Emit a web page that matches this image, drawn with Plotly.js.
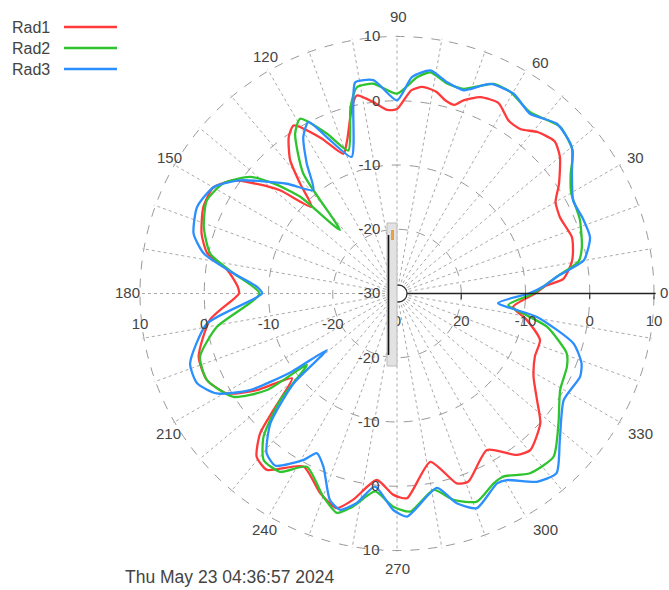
<!DOCTYPE html>
<html><head><meta charset="utf-8">
<script src="https://cdn.plot.ly/plotly-3.0.1.min.js"></script>
<style>html,body{margin:0;padding:0;background:#fff}#chart{width:669px;height:590px}</style>
</head><body><div id="chart"></div>
<script>
const seriesNames = ['Rad1', 'Rad2', 'Rad3'];
const seriesColors = ['#ff3a3a', '#2ec42e', '#2b8fff'];

const rad1Theta = [0,3,5,10,13,18,25,30,34,40,44,49,53,57,62,67,71,73,76,79,83,86,90,93,97,101.5,103.6,108,111,116,121.6,124.7,128.7,131.4,134.6,138.6,142,145.3,150,156,163,168,172,177.6,180,188,197.7,204.5,210.4,214.6,218.9,223.3,225.6,229.3,233.6,241.6,249,254.3,258,263.8,269,272.8,281.2,287.5,290.8,299.9,306.6,310.4,317.8,322.7,328.6,335.4,342,348.7,353.4,360];
const rad1R = [-8.5,-6.8,-4.0,-2.4,-1.9,-1.4,-2.0,-1.5,0.4,3.1,4.1,3.3,2.0,2.0,3.6,3.2,1.8,0.7,1.0,2.0,2.4,1.7,-1.3,-1.4,0.0,1.45,-0.15,-4.9,-6.7,-3.1,0.7,-0.4,-3.4,-7.2,-11.1,-5.7,-2.3,0.9,3.0,3.0,1.8,0.2,-3.3,-5.2,-5.4,-0.6,2.4,2.5,0.7,-3.5,-9.0,-3.6,0.45,3.5,4.1,0.6,3.3,4.7,2.8,-0.8,1.35,1.9,-3.3,1.0,1.3,-1.9,1.3,2.0,0.1,-2.6,-5.1,-6.4,-6.6,-9.5,-11.8,-8.5];

const rad2Theta = [0,3,6,10,14,22,30,34.5,39,45.6,53.7,60.7,65.3,72,76.6,81.4,84.7,90,96.4,101,104,108.8,113.7,119,122.5,128,132,135,138.3,141.6,147.6,154,161,168,173,180,190.5,197.8,204.5,212.3,216.6,218.4,222.4,227,231.3,236.7,242.5,250,254.7,258.4,263.7,269,273.5,280.6,285.3,291,297,300.2,306.5,313.8,321.2,329.4,336.7,340.6,347.5,351,354.1,360];
const rad2R = [-8.8,-7,-5,-1.3,-0.35,0.7,1.3,2.8,5.2,6.3,5.0,6.0,5.9,3.5,3.6,4.8,3.8,1.1,2.85,2.7,-0.1,-6.5,-2.8,1.1,-0.5,-6.3,-16.7,-8.7,-4.25,-0.8,2.0,2.95,1.8,-0.3,-4.4,-8.6,-1.5,2.2,2.5,0.1,-4.8,-12.1,-5.4,0.45,3.2,3.2,0.4,3.6,5.4,3.8,1.0,3.2,4.0,1.1,3.3,4.7,3.15,2.95,4.8,5.2,2.25,-0.5,-1.2,-2.0,-6.1,-10.1,-12.6,-8.8];

const rad3Theta = [0,3,6,10,13.7,16.3,22,27.8,34.4,40,46.7,53.5,59.7,66,71.8,76.7,81.5,86,90,96.3,101.2,103.2,108.4,114.2,117.3,120.9,124.8,129,135.1,144.2,149.9,156.6,163.6,168.3,173,177.3,180,189,198.7,204.2,209,213.3,216.6,218.9,221,225.7,230.8,234.8,240.7,243.3,247,252,255.3,259.1,263.5,269,272.6,281.6,285.9,290.4,297.8,300.5,306.6,311.6,318,327.4,335.6,339.3,344.2,350.5,354.6,360];
const rad3R = [-9.5,-7,-5,-0.5,0.7,1.3,1.2,1.0,3.0,5.5,6.3,4.8,6.0,5.7,3.3,3.8,5.1,3.8,0.05,3.4,3.5,-0.2,-7.6,-3.3,0.05,-1.6,-5.4,-9.3,-5.8,0.1,3.0,3.9,3.0,0.7,-4.4,-8.2,-9.0,-0.05,4.0,4.1,2.1,-2.6,-9.6,-16.0,-8.7,-1.8,2.1,2.8,-0.3,-2.2,-0.7,3.8,4.8,3.2,0.25,3.7,4.75,0.9,3.95,5.65,3.4,3.7,6.5,7.4,4.1,0.8,1.3,0.7,-1.45,-7.9,-14.2,-9.5];

const angleGridVals = [0,10,20,30,40,50,60,70,80,90,100,110,120,130,140,150,160,170,180,190,200,210,220,230,240,250,260,270,280,290,300,310,320,330,340,350];
const angleLabelText = ['0','30','60','90','120','150','180','210','240','270','300','330'];
const radialTickVals = [-30,-20,-10,0,10];
const rightTickText = ['0','20','-10','0','10'];
const leftTickText = ['','-20','-10','0','10'];
const topTickText = ['-30','-20','-10','0','10'];
const bottomTickText = ['','-20','-10','0','10'];
const timestamp = 'Thu May 23 04:36:57 2024';

// layout geometry (pixels)
const W = 669, H = 590;
const RANGE = [-30, 10.25];
const CX = 397, CY = 293.5, RAD = 257 * (RANGE[1] - RANGE[0]) / 40;
const angleLabelPos = [[664,292],[635,157],[540,62],[399,16],[265,56],[169,157],[127,292],[168,434],[264,529],[397,568],[545,529],[640,434]];
const dom = {x: [(CX - RAD) / W, (CX + RAD) / W], y: [1 - (CY + RAD) / H, 1 - (CY - RAD) / H]};
const FONT = 'Liberation Sans, Arial, sans-serif';
const tickFont = {family: FONT, size: 15, color: '#444'};

const thetas = [rad1Theta, rad2Theta, rad3Theta];
const rs = [rad1R, rad2R, rad3R];
const traces = seriesNames.map((n, i) => ({
  type: 'scatterpolar', mode: 'lines', name: n,
  theta: thetas[i], r: rs[i], subplot: 'polar',
  line: {color: seriesColors[i], width: 2.3, shape: 'spline', smoothing: 0.6},
  hoverinfo: 'skip'
}));
['polar2', 'polar3', 'polar4', 'polar5'].forEach(s => traces.push({type: 'scatterpolar', mode: 'lines', r: [], theta: [], subplot: s, hoverinfo: 'skip', showlegend: false}));

function overlay(angle, side, ticktext, tickangle, len) {
  return {
    domain: dom, bgcolor: 'rgba(0,0,0,0)',
    radialaxis: {range: RANGE, angle: angle, side: side, tickvals: radialTickVals, ticktext: ticktext,
      showgrid: false, showline: false, ticks: 'outside', ticklen: len, tickcolor: 'rgba(0,0,0,0)',
      tickfont: tickFont, tickangle: tickangle},
    angularaxis: {visible: false}
  };
}

const layout = {
  width: W, height: H, margin: {l: 0, r: 0, t: 0, b: 0},
  paper_bgcolor: '#fff', showlegend: false,
  polar: {
    domain: dom, bgcolor: 'rgba(0,0,0,0)',
    radialaxis: {range: RANGE, angle: 0, side: 'clockwise', tickvals: radialTickVals, showticklabels: false,
      showline: true, linecolor: '#222', linewidth: 1.5, ticks: 'outside', ticklen: 5, tickcolor: '#222',
      gridcolor: '#999', griddash: 'dash', gridwidth: 1},
    angularaxis: {tickvals: angleGridVals, showticklabels: false, rotation: 0, direction: 'counterclockwise',
      showline: false, ticks: '', gridcolor: '#aaa', griddash: 'dot', gridwidth: 1}
  },
  polar2: overlay(180, 'counterclockwise', leftTickText, 180, 14),
  polar3: overlay(90, 'counterclockwise', topTickText, 90, 11),
  polar4: overlay(270, 'clockwise', bottomTickText, -90, 11),
  polar5: overlay(0, 'clockwise', rightTickText, 0, 14),
  annotations: [],
  shapes: []
};

angleLabelText.forEach((t, i) => {
  layout.annotations.push({xref: 'paper', yref: 'paper', x: angleLabelPos[i][0] / W, y: 1 - angleLabelPos[i][1] / H,
    xanchor: 'center', yanchor: 'middle', text: t, showarrow: false, font: tickFont});
});

// legend (text left, line right)
const legY = [27, 48, 69];
seriesNames.forEach((n, i) => {
  layout.annotations.push({xref: 'paper', yref: 'paper', x: 10 / W, y: 1 - legY[i] / H, xanchor: 'left', yanchor: 'middle',
    text: n, showarrow: false, font: {family: FONT, size: 16, color: '#444'}});
  layout.shapes.push({type: 'line', xref: 'paper', yref: 'paper', x0: 64 / W, x1: 117 / W, y0: 1 - legY[i] / H, y1: 1 - legY[i] / H,
    line: {color: seriesColors[i], width: 2.5}});
});
layout.annotations.push({xref: 'paper', yref: 'paper', x: 123 / W, y: 1 - 577 / H, xanchor: 'left', yanchor: 'middle',
  text: timestamp, showarrow: false, font: {family: FONT, size: 17.5, color: '#444'}});

// centre artefacts
layout.shapes.push({type: 'circle', xref: 'paper', yref: 'paper', x0: 390 / W, x1: 407 / W, y0: 1 - 302 / H, y1: 1 - 285 / H,
  fillcolor: '#fff', line: {color: '#333', width: 1.3}, layer: 'above'});
layout.shapes.push({type: 'rect', xref: 'paper', yref: 'paper', x0: 387 / W, x1: 397 / W, y0: 1 - 366 / H, y1: 1 - 223 / H,
  fillcolor: '#e2e2e2', line: {color: '#bbb', width: 1}, layer: 'above'});
layout.shapes.push({type: 'line', xref: 'paper', yref: 'paper', x0: 388.5 / W, x1: 388.5 / W, y0: 1 - 355 / H, y1: 1 - 235 / H,
  line: {color: '#111', width: 1.6}, layer: 'above'});
layout.shapes.push({type: 'rect', xref: 'paper', yref: 'paper', x0: 391 / W, x1: 394 / W, y0: 1 - 240 / H, y1: 1 - 230 / H,
  fillcolor: '#e8a040', line: {width: 0}, layer: 'above'});

Plotly.newPlot('chart', traces, layout, {staticPlot: true, displayModeBar: false});
</script></body></html>
